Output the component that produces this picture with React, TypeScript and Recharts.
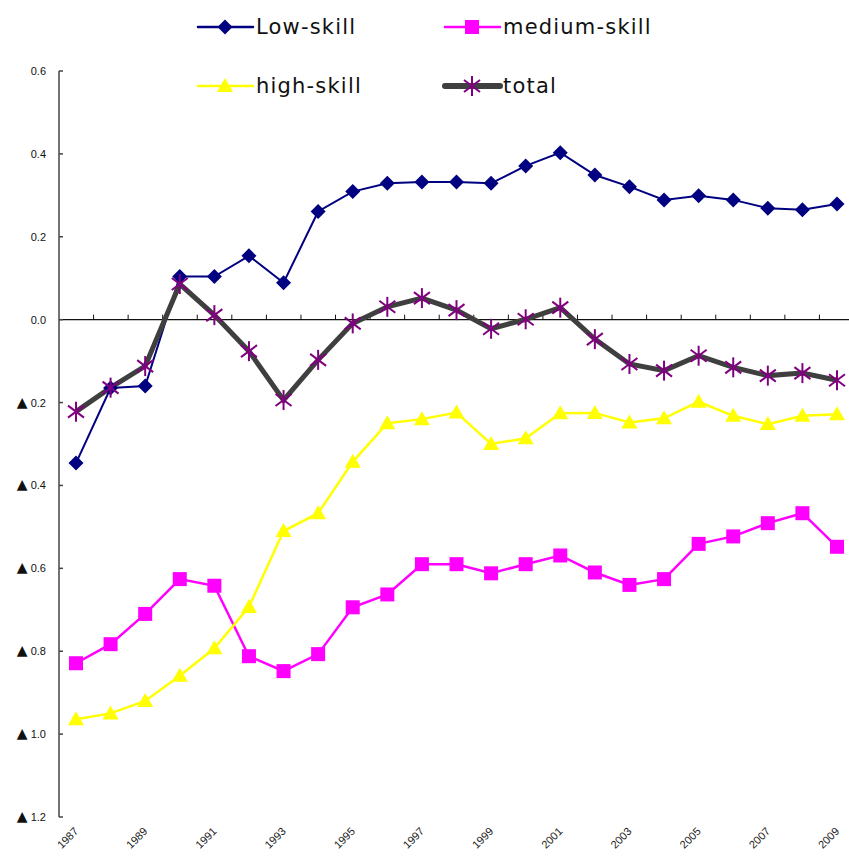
import { LineChart, Line, XAxis, YAxis, ReferenceLine } from 'recharts'

const years = [
  '1987', '1988', '1989', '1990', '1991', '1992', '1993', '1994', '1995', '1996', '1997', '1998',
  '1999', '2000', '2001', '2002', '2003', '2004', '2005', '2006', '2007', '2008', '2009',
]
const lowSkill = [
  -0.346, -0.165, -0.16, 0.104, 0.104, 0.154, 0.089, 0.261, 0.309, 0.329, 0.332, 0.332,
  0.329, 0.371, 0.403, 0.349, 0.321, 0.289, 0.299, 0.289, 0.269, 0.265, 0.279,
]
const mediumSkill = [
  -0.829, -0.783, -0.71, -0.626, -0.642, -0.812, -0.848, -0.807, -0.694, -0.663, -0.59, -0.59,
  -0.612, -0.59, -0.569, -0.61, -0.64, -0.626, -0.541, -0.523, -0.491, -0.467, -0.548,
]
const highSkill = [
  -0.964, -0.95, -0.92, -0.859, -0.793, -0.693, -0.51, -0.467, -0.343, -0.25, -0.24, -0.224,
  -0.3, -0.286, -0.226, -0.225, -0.248, -0.238, -0.198, -0.232, -0.252, -0.232, -0.228,
]
const total = [
  -0.222, -0.164, -0.112, 0.086, 0.011, -0.076, -0.194, -0.097, -0.009, 0.031, 0.052, 0.023,
  -0.022, 0.001, 0.029, -0.047, -0.107, -0.123, -0.087, -0.115, -0.135, -0.129, -0.146,
]
const yTicks = [0.6, 0.4, 0.2, 0, -0.2, -0.4, -0.6, -0.8, -1.0, -1.2]

const data = years.map((year, i) => ({
  year,
  low: lowSkill[i],
  medium: mediumSkill[i],
  high: highSkill[i],
  total: total[i],
}))

type Kind = 'diamond' | 'square' | 'triangle' | 'asterisk'

function Marker({ kind, cx, cy, color }: { kind: Kind; cx: number; cy: number; color: string }) {
  if (kind === 'diamond') {
    const r = 7.5
    return <polygon points={`${cx},${cy - r} ${cx + r},${cy} ${cx},${cy + r} ${cx - r},${cy}`} fill={color} />
  }
  if (kind === 'square') {
    return <rect x={cx - 7} y={cy - 7} width={14} height={14} fill={color} />
  }
  if (kind === 'triangle') {
    return <polygon points={`${cx},${cy - 8} ${cx + 8},${cy + 6} ${cx - 8},${cy + 6}`} fill={color} />
  }
  const r = 10
  const dx = r * 0.8
  const dy = r * 0.6
  return (
    <g stroke={color} strokeWidth={2}>
      <line x1={cx} y1={cy - r} x2={cx} y2={cy + r} />
      <line x1={cx - dx} y1={cy - dy} x2={cx + dx} y2={cy + dy} />
      <line x1={cx - dx} y1={cy + dy} x2={cx + dx} y2={cy - dy} />
    </g>
  )
}

const series = [
  { key: 'low', name: 'Low-skill', stroke: '#000080', width: 2, kind: 'diamond' as Kind, mark: '#000080' },
  { key: 'medium', name: 'medium-skill', stroke: '#ff00ff', width: 2.5, kind: 'square' as Kind, mark: '#ff00ff' },
  { key: 'high', name: 'high-skill', stroke: '#ffff00', width: 2.5, kind: 'triangle' as Kind, mark: '#ffff00' },
  { key: 'total', name: 'total', stroke: '#3f3f3f', width: 5, kind: 'asterisk' as Kind, mark: '#800080' },
]

const legendPos = [
  { x: 198, y: 27 },
  { x: 445, y: 27 },
  { x: 198, y: 86 },
  { x: 445, y: 86 },
]

function LegendBox() {
  return (
    <svg width={849} height={110} style={{ position: 'absolute', left: 0, top: 0 }}>
      {series.map((s, i) => {
        const p = legendPos[i]
        return (
          <g key={s.key}>
            <line x1={p.x} y1={p.y} x2={p.x + 55} y2={p.y} stroke={s.stroke} strokeWidth={s.width === 5 ? 6 : 2.5} strokeLinecap="round" />
            <Marker kind={s.kind} cx={p.x + 27} cy={p.y} color={s.mark} />
            <text x={p.x + 58} y={p.y} dy={7} fontSize={21} letterSpacing={1.2} fill="#111" fontFamily="DejaVu Sans">
              {s.name}
            </text>
          </g>
        )
      })}
    </svg>
  )
}

function YTick(props: any) {
  const { x, y, payload } = props
  const v: number = payload.value
  return (
    <g>
      <line x1={x + 13} y1={y} x2={x + 17} y2={y} stroke="#444" strokeWidth={1.5} />
      <text x={x} y={y} dy={4} textAnchor="end" fontSize={11} fill="#111" fontFamily="Liberation Sans">
        {v < 0 && <tspan fontSize={14} fontFamily="DejaVu Sans">▲</tspan>}
        {v < 0 ? ` ${Math.abs(v).toFixed(1)}` : v.toFixed(1)}
      </text>
    </g>
  )
}

function XTick(props: any) {
  const { x, y, payload } = props
  return (
    <text
      transform={`translate(${x + 3},${y + 7}) rotate(-45)`}
      textAnchor="end"
      fontSize={11}
      fill="#222"
      fontFamily="Liberation Sans"
    >
      {payload.value}
    </text>
  )
}

function ZeroAxis(props: any) {
  const { x1, y1, x2 } = props
  const n = years.length
  const step = (x2 - x1) / n
  return (
    <g>
      <line x1={x1} y1={y1} x2={x2} y2={y1} stroke="#111" strokeWidth={1.2} />
      {years.slice(1).map((y, i) => (
        <line key={y} x1={x1 + step * (i + 1)} y1={y1} x2={x1 + step * (i + 1)} y2={y1 - 5} stroke="#111" strokeWidth={1} />
      ))}
    </g>
  )
}

export default function App() {
  return (
    <div style={{ position: 'absolute', left: 0, top: 0, width: 849, height: 857, overflow: 'hidden', background: '#fff' }}>
      <LineChart width={880} height={857} data={data} margin={{ top: 71, right: 26, bottom: 0, left: 0 }}>
        <XAxis
          dataKey="year"
          interval={1}
          axisLine={false}
          tickLine={false}
          height={40}
          tick={XTick}
          padding={{ left: 17, right: 17 }}
        />
        <YAxis
          type="number"
          domain={[-1.2, 0.6]}
          ticks={yTicks}
          interval={0}
          width={59}
          tickSize={0}
          tickMargin={13}
          tick={YTick}
          axisLine={{ stroke: '#444', strokeWidth: 1.5 }}
          tickLine={false}
        />
        <ReferenceLine y={0} shape={ZeroAxis} />
        {series.map((s) => (
          <Line
            key={s.key}
            dataKey={s.key}
            name={s.name}
            stroke={s.stroke}
            strokeWidth={s.width}
            isAnimationActive={false}
            dot={(p: any) => <Marker key={`${s.key}-${p.index}`} kind={s.kind} cx={p.cx} cy={p.cy} color={s.mark} />}
            activeDot={false}
          />
        ))}
      </LineChart>
      <LegendBox />
    </div>
  )
}
